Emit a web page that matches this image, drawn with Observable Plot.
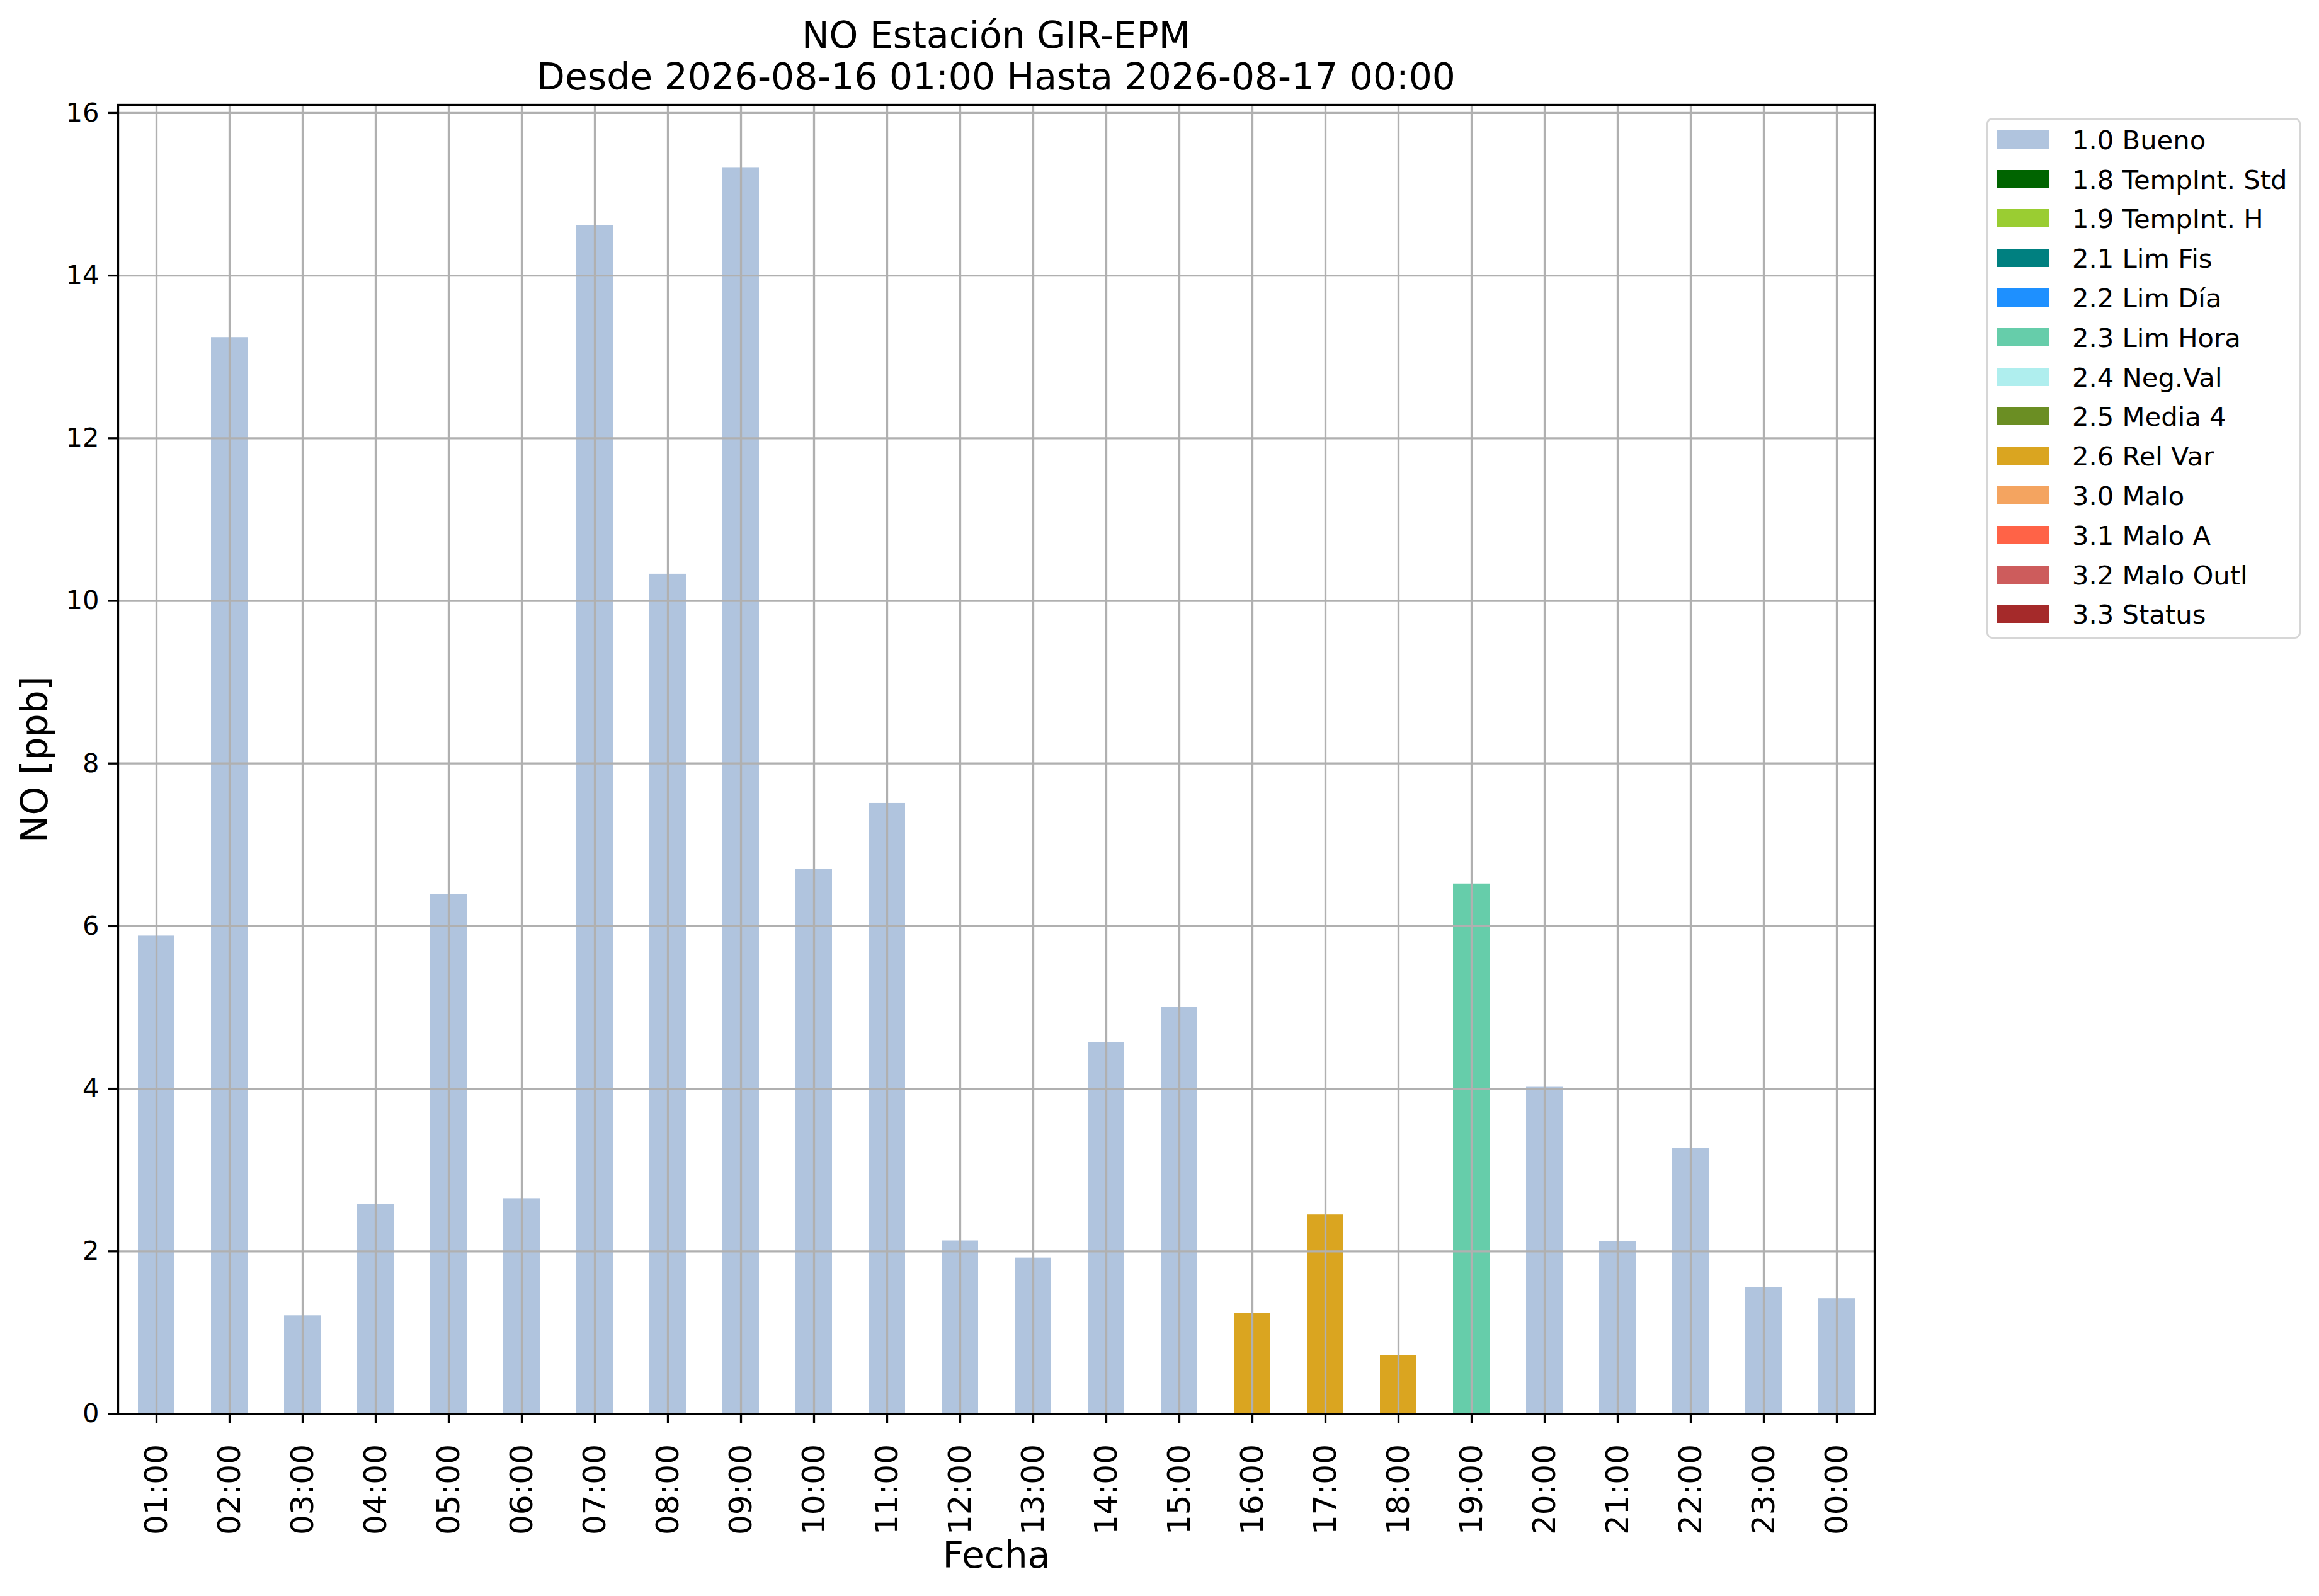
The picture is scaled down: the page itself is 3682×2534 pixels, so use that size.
<!DOCTYPE html>
<html>
<head>
<meta charset="utf-8">
<script src="https://cdn.jsdelivr.net/npm/d3@7"></script>
<script src="https://cdn.jsdelivr.net/npm/@observablehq/plot@0.6"></script>
<style>
  html, body { margin: 0; padding: 0; background: #ffffff; }
  #wrap { position: relative; width: 3682px; height: 2534px; font-family: "DejaVu Sans", sans-serif; color: #000; overflow: hidden; }
  #title { position: absolute; left: 0; top: 23px; width: 3163px; text-align: center; font-size: 58.3px; line-height: 66px; white-space: nowrap; }
  #legend { position: absolute; left: 3154px; top: 187px; width: 499px; height: 827px; box-sizing: border-box; border: 3.3px solid #d6d6d6; border-radius: 9px; background: #fff; }
  .row { position: absolute; left: 0; height: 29px; width: 100%; }
  .sw { position: absolute; left: 14px; top: 0; width: 83px; height: 29px; }
  .lab { position: absolute; left: 133px; top: 1px; font-size: 41.7px; line-height: 29px; white-space: nowrap; }
</style>
</head>
<body>
<div id="wrap">
  <div id="chart"></div>
  <div id="title"></div>
  <div id="legend"></div>
</div>
<script>
// ---- data ----
const hours = ["01:00","02:00","03:00","04:00","05:00","06:00","07:00","08:00","09:00","10:00","11:00","12:00",
               "13:00","14:00","15:00","16:00","17:00","18:00","19:00","20:00","21:00","22:00","23:00","00:00"];
const values = [5.88, 13.24, 1.21, 2.58, 6.39, 2.65, 14.62, 10.33, 15.33, 6.70, 7.51, 2.13,
                1.92, 4.57, 5.00, 1.24, 2.45, 0.72, 6.52, 4.02, 2.12, 3.27, 1.56, 1.42];
const flags = ["1.0 Bueno","1.0 Bueno","1.0 Bueno","1.0 Bueno","1.0 Bueno","1.0 Bueno","1.0 Bueno","1.0 Bueno",
               "1.0 Bueno","1.0 Bueno","1.0 Bueno","1.0 Bueno","1.0 Bueno","1.0 Bueno","1.0 Bueno",
               "2.6 Rel Var","2.6 Rel Var","2.6 Rel Var","2.3 Lim Hora",
               "1.0 Bueno","1.0 Bueno","1.0 Bueno","1.0 Bueno","1.0 Bueno"];
const flagLabels = ["1.0 Bueno","1.8 TempInt. Std","1.9 TempInt. H","2.1 Lim Fis","2.2 Lim Día","2.3 Lim Hora",
                    "2.4 Neg.Val","2.5 Media 4","2.6 Rel Var","3.0 Malo","3.1 Malo A","3.2 Malo Outl","3.3 Status"];
const flagColors = ["#b0c4de","#006400","#9acd32","#008080","#1e90ff","#66cdaa",
                    "#afeeee","#6b8e23","#daa520","#f4a460","#ff6347","#cd5c5c","#a52a2a"];
const yTicks = [0, 2, 4, 6, 8, 10, 12, 14, 16];
const titleLines = ["NO Estación GIR-EPM", "Desde 2026-08-16 01:00 Hasta 2026-08-17 00:00"];
const xLabel = "Fecha";
const yLabel = "NO [ppb]";

const data = hours.map((h, i) => ({hour: h, value: values[i], flag: flags[i]}));

const chart = Plot.plot({
  width: 3682,
  height: 2534,
  marginTop: 166,
  marginBottom: 289.5,
  marginLeft: 187,
  marginRight: 706,
  style: {fontFamily: '"DejaVu Sans", sans-serif', background: "white", color: "black", overflow: "visible"},
  x: {type: "band", domain: hours, paddingInner: 0.5, paddingOuter: 0.25, axis: null},
  y: {domain: [0, 16.1], axis: null},
  color: {domain: flagLabels, range: flagColors},
  marks: [
    Plot.barY(data, {x: "hour", y: "value", fill: "flag"}),
    Plot.gridX({stroke: "#b0b0b0", strokeOpacity: 1, strokeWidth: 3.3}),
    Plot.gridY(yTicks, {stroke: "#b0b0b0", strokeOpacity: 1, strokeWidth: 3.3}),
    Plot.frame({stroke: "black", strokeWidth: 3.3}),
    Plot.axisY(yTicks, {tickSize: 15, tickPadding: 15, fontSize: 41.7, strokeWidth: 3.3, label: null, tickFormat: d => String(d)}),
    Plot.axisX({tickSize: 15, tickPadding: 33, tickRotate: -90, fontSize: 50, strokeWidth: 3.3, label: null}),
    Plot.text([xLabel], {text: d => d, frameAnchor: "bottom", dy: 244, fontSize: 58.3}),
    Plot.text([yLabel], {text: d => d, frameAnchor: "left", dx: -131.6, rotate: -90, textAnchor: "middle", lineAnchor: "middle", fontSize: 58.3})
  ]
});
document.getElementById("chart").appendChild(chart);

// title
const t = document.getElementById("title");
titleLines.forEach(s => { const d = document.createElement("div"); d.textContent = s; t.appendChild(d); });

// legend
const lg = document.getElementById("legend");
flagLabels.forEach((lab, i) => {
  const r = document.createElement("div");
  r.className = "row";
  r.style.top = (207 - 187 - 3.3 + i * 62.8) + "px";
  const sw = document.createElement("div");
  sw.className = "sw";
  sw.style.background = flagColors[i];
  const tx = document.createElement("div");
  tx.className = "lab";
  tx.textContent = lab;
  r.appendChild(sw); r.appendChild(tx);
  lg.appendChild(r);
});
</script>
</body>
</html>
